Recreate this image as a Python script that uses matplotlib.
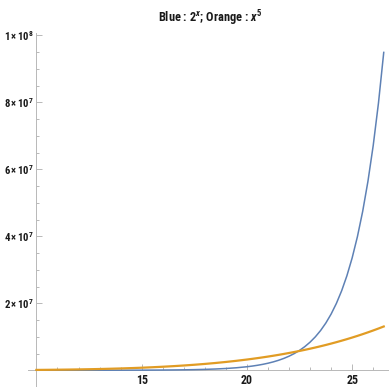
import matplotlib
matplotlib.use("Agg")
import matplotlib.pyplot as plt
from matplotlib import font_manager as fm
from matplotlib.ticker import FixedLocator, FuncFormatter


def pick(cands):
    for c in cands:
        try:
            fm.findfont(fm.FontProperties(family=c), fallback_to_default=False)
            return c
        except Exception:
            pass
    return 'Liberation Sans'


FONT = pick(['Liberation Sans Narrow', 'Roboto Condensed', 'Open Sans Condensed',
             'Noto Sans Condensed', 'DejaVu Sans Condensed', 'Liberation Sans'])

plt.rcParams['font.family'] = [FONT, 'Liberation Sans', 'DejaVu Sans']
plt.rcParams['mathtext.fontset'] = 'custom'
plt.rcParams['mathtext.rm'] = FONT + ':bold'
plt.rcParams['mathtext.it'] = FONT + ':italic:bold'
plt.rcParams['mathtext.bf'] = FONT + ':bold'

# ---- data ----
x_vals = [10, 10.5, 11, 11.5, 12, 12.5, 13, 13.5, 14, 14.5, 15, 15.5, 16, 16.5,
          17, 17.5, 18, 18.5, 19, 19.5, 20, 20.25, 20.5, 20.75, 21, 21.25, 21.5,
          21.75, 22, 22.25, 22.5, 22.75, 23, 23.25, 23.5, 23.75, 24, 24.25, 24.5,
          24.75, 25, 25.25, 25.5, 25.75, 26, 26.25, 26.5]
blue_vals = [1024, 1448, 2048, 2896, 4096, 5793, 8192, 11585, 16384, 23170,
             32768, 46341, 65536, 92682, 131072, 185364, 262144, 370728, 524288,
             741455, 1048576, 1246974, 1482910, 1763488, 2097152, 2493948,
             2965821, 3526975, 4194304, 4987896, 5931642, 7053950, 8388608,
             9975792, 11863283, 14107900, 16777216, 19951584, 23726566, 28215801,
             33554432, 39903169, 47453133, 56431601, 67108864, 79806338, 94906266]
orange_vals = [100000, 127628, 161051, 201136, 248832, 305176, 371293, 448403,
               537824, 640973, 759375, 895639, 1048576, 1222981, 1419857, 1641309,
               1889568, 2166893, 2476099, 2819506, 3200000, 3405063, 3620506,
               3846719, 4084101, 4333060, 4594014, 4867392, 5153632, 5453183,
               5766504, 6094064, 6436343, 6793832, 7167031, 7556454, 7962624,
               8386074, 8827352, 9287012, 9765625, 10263772, 10782039, 11321036,
               11881376, 12463687, 13068609]
x_major = [15, 20, 25]
x_minor = [11, 12, 13, 14, 16, 17, 18, 19, 21, 22, 23, 24, 26]
y_major = [2e7, 4e7, 6e7, 8e7, 1e8]
y_minor = [-5e6, 5e6, 1e7, 1.5e7, 2.5e7, 3e7, 3.5e7, 4.5e7, 5e7, 5.5e7,
           6.5e7, 7e7, 7.5e7, 8.5e7, 9e7, 9.5e7]
title = r"Blue : $\mathrm{2}^{x}$; Orange : $x^{5}$"

BLUE = '#5E81B5'
ORANGE = '#E19C24'
AXC = '#b8b8b8'
TXT = '#1a1a1a'

fig = plt.figure(figsize=(3.89, 3.87), dpi=100)
ax = fig.add_axes([28/389, 0.0, (389-28)/389, (387-33)/387])
ax.set_facecolor('none')
ax.plot(x_vals, blue_vals, color=BLUE, lw=1.1, zorder=3, clip_on=False)
ax.plot(x_vals, orange_vals, color=ORANGE, lw=1.6, zorder=4, clip_on=False)

ax.set_xlim(9.6, 26.75)
ax.set_ylim(-5e6, 1.007e8)

for s in ['top', 'right']:
    ax.spines[s].set_visible(False)
ax.spines['left'].set_position(('data', 10))
ax.spines['bottom'].set_position(('data', 0))
for s in ['left', 'bottom']:
    ax.spines[s].set_color(AXC)
    ax.spines[s].set_linewidth(0.7)

ax.xaxis.set_major_locator(FixedLocator(x_major))
ax.xaxis.set_minor_locator(FixedLocator(x_minor))
ax.yaxis.set_major_locator(FixedLocator(y_major))
ax.yaxis.set_minor_locator(FixedLocator(y_minor))


def yfmt(v, pos):
    e = 0
    m = v
    while m >= 10:
        m /= 10
        e += 1
    return r"$%d\,{\times}\,10^{%d}$" % (round(m), e)


ax.yaxis.set_major_formatter(FuncFormatter(yfmt))
ax.xaxis.set_major_formatter(FuncFormatter(lambda v, p: "%d" % v))

ax.tick_params(which='both', direction='in', color=AXC, width=0.7)
ax.tick_params(which='major', length=4)
ax.tick_params(which='minor', length=2.2)
ax.tick_params(axis='x', which='major', labelsize=9, pad=2.5, labelcolor=TXT)
ax.tick_params(axis='y', which='major', labelsize=7, pad=2, labelcolor=TXT)
for lab in ax.get_xticklabels():
    lab.set_fontweight('bold')

ttl = fig.text(210/389, 1 - 18/387, title, ha='center', va='center', fontsize=10,
               fontweight='bold', color=TXT)

# fit text widths to the reference sizes (as fractions of the figure width)
fig.canvas.draw()
r = fig.canvas.get_renderer()
FW = fig.bbox.width
scale = FW / 389.0


def clamp(v, lo, hi):
    return max(lo, min(hi, v))


w = ttl.get_window_extent(r).width / scale
ttl.set_fontsize(clamp(10 * 104.0 / w, 7.0, 11.0))
wy = max(l.get_window_extent(r).width for l in ax.get_yticklabels()) / scale
ax.tick_params(axis='y', which='major', labelsize=clamp(7 * 30.0 / wy, 6.0, 9.0))
wx = max(l.get_window_extent(r).width for l in ax.get_xticklabels() if l.get_text()) / scale
ax.tick_params(axis='x', which='major', labelsize=clamp(9 * 12.0 / wx, 7.5, 10.5))

fig.savefig('out.png', dpi=100)
